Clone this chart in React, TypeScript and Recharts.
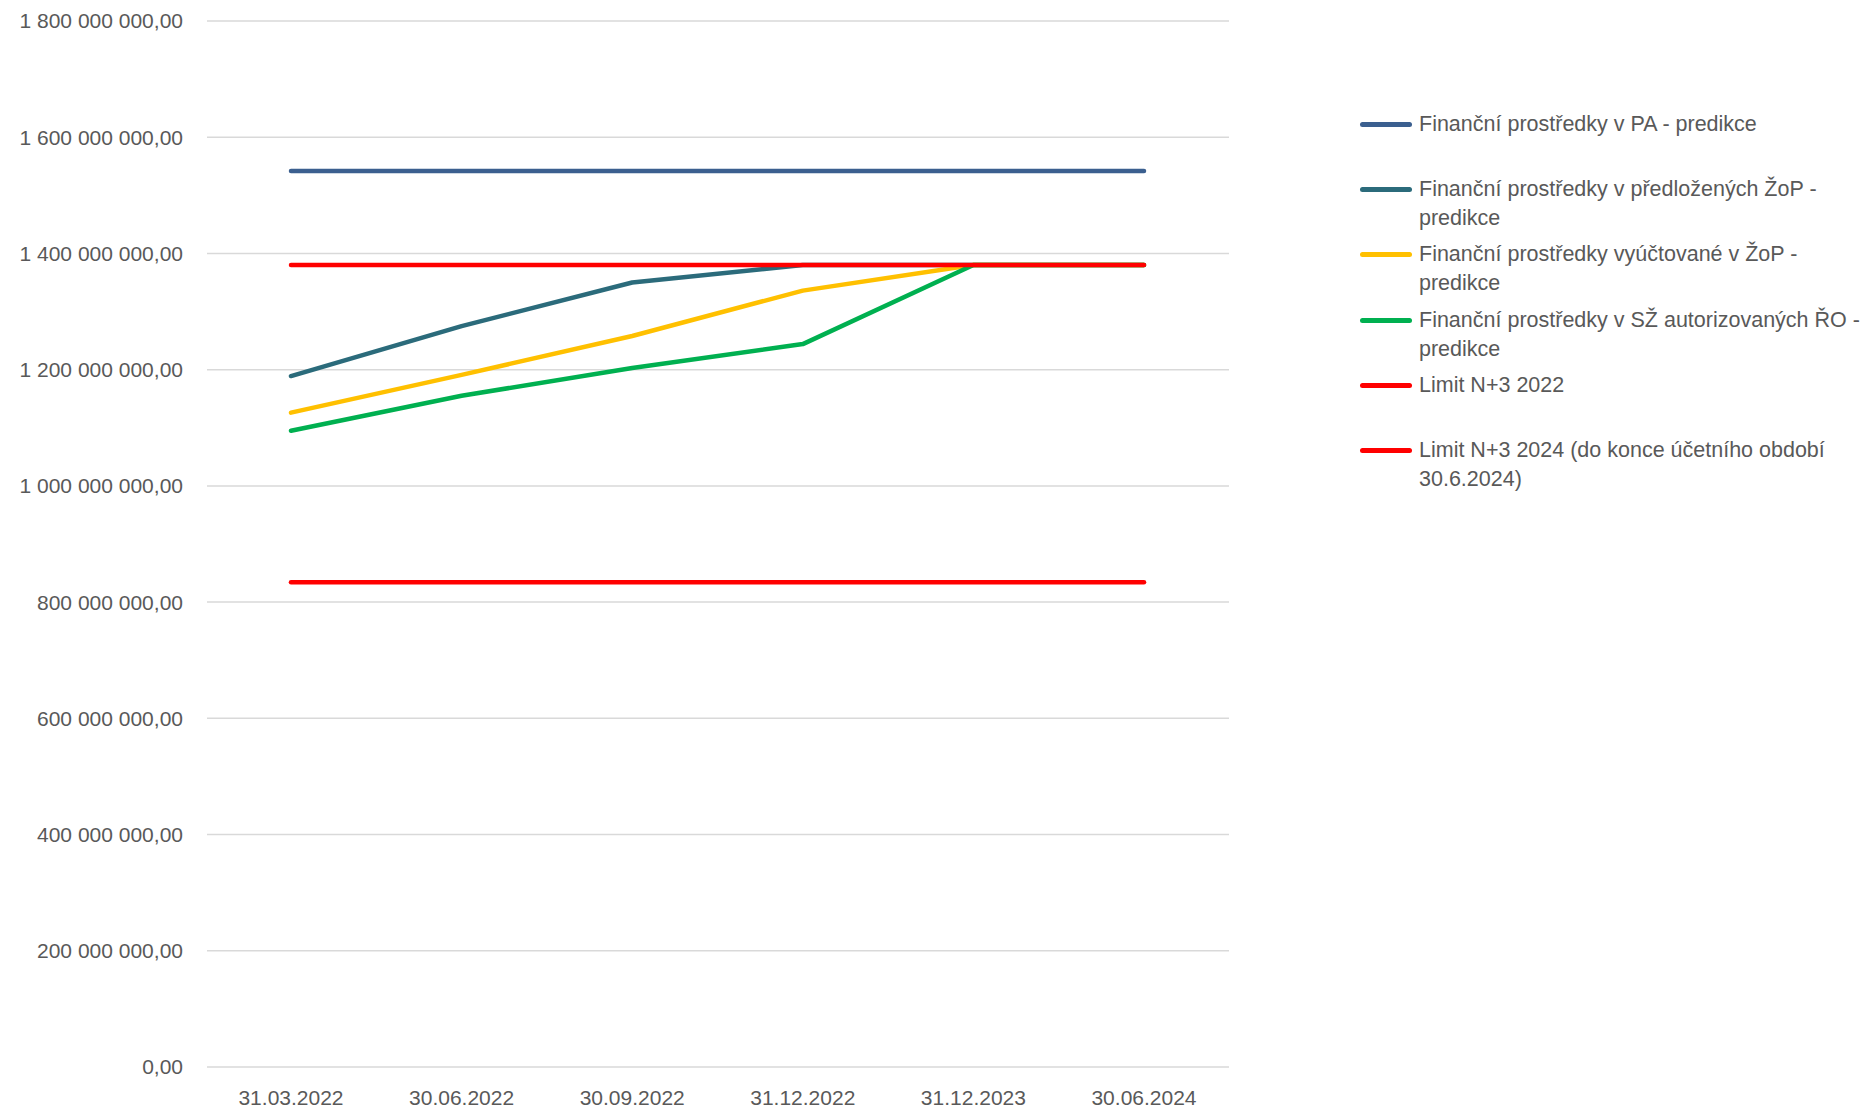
import { CartesianGrid, Legend, Line, LineChart, XAxis, YAxis } from "recharts";

const TEXT = "#595959";
const GRID = "#d9d9d9";
const FONT = "'Liberation Sans', Arial, sans-serif";

// quarters on the x axis
const dates = ["31.03.2022", "30.06.2022", "30.09.2022", "31.12.2022", "31.12.2023", "30.06.2024"];
const yTicks = [0, 200000000, 400000000, 600000000, 800000000, 1000000000, 1200000000, 1400000000, 1600000000, 1800000000];

const paPredikce = [1542000000, 1542000000, 1542000000, 1542000000, 1542000000, 1542000000];
const zopPredlozene = [1189000000, 1275000000, 1350000000, 1380000000, 1380000000, 1380000000];
const zopVyuctovane = [1126000000, 1191000000, 1258000000, 1336000000, 1380000000, 1380000000];
const szAutorizovane = [1095000000, 1155000000, 1203000000, 1244000000, 1380000000, 1380000000];
const limit2022 = [834000000, 834000000, 834000000, 834000000, 834000000, 834000000];
const limit2024 = [1380000000, 1380000000, 1380000000, 1380000000, 1380000000, 1380000000];

const SERIES = [
  { key: "pa", name: "Finanční prostředky v PA - predikce", color: "#3b5f8f", values: paPredikce },
  { key: "predlozene", name: "Finanční prostředky v předložených ŽoP -\npredikce", color: "#2b6b7b", values: zopPredlozene },
  { key: "vyuctovane", name: "Finanční prostředky vyúčtované v ŽoP -\npredikce", color: "#ffc000", values: zopVyuctovane },
  { key: "sz", name: "Finanční prostředky v SŽ autorizovaných ŘO -\npredikce", color: "#00b050", values: szAutorizovane },
  { key: "limit2022", name: "Limit N+3 2022", color: "#ff0000", values: limit2022 },
  { key: "limit2024", name: "Limit N+3 2024 (do konce účetního období\n30.6.2024)", color: "#ff0000", values: limit2024 },
];

const data = dates.map((date, i) => {
  const row: Record<string, string | number> = { date };
  SERIES.forEach((s) => {
    row[s.key] = s.values[i];
  });
  return row;
});

const formatNumber = (v: number) =>
  v.toFixed(2).replace(".", ",").replace(/\B(?=(\d{3})+(?!\d))/g, " ");

// legend keeps the series order (recharts would sort it by name)
function LegendBox() {
  return (
    <div style={{ fontFamily: FONT, fontSize: 21.5, color: TEXT }}>
      {SERIES.map((s) => (
        <div key={s.key} style={{ height: 65.2, display: "flex", alignItems: "flex-start" }}>
          <div style={{ width: 54, height: 29, display: "flex", alignItems: "center", flexShrink: 0 }}>
            <div style={{ width: 52, height: 5, borderRadius: 3, background: s.color }} />
          </div>
          <div style={{ lineHeight: "29px", whiteSpace: "pre-line", marginLeft: 5 }}>{s.name}</div>
        </div>
      ))}
    </div>
  );
}

export default function App() {
  return (
    <div style={{ position: "absolute", left: 0, top: 0, width: 1876, height: 1110, background: "#fff" }}>
      <LineChart width={1876} height={1110} data={data} margin={{ top: 21, right: 647, bottom: 0, left: 0 }}>
        <CartesianGrid vertical={false} stroke={GRID} strokeWidth={1.5} />
        <XAxis
          dataKey="date"
          height={43}
          padding={{ left: 84, right: 85 }}
          axisLine={false}
          tickLine={false}
          tickSize={0}
          tickMargin={23}
          tick={{ fontSize: 21, fill: TEXT, fontFamily: FONT }}
        />
        <YAxis
          width={207}
          domain={[0, 1800000000]}
          ticks={yTicks}
          tickFormatter={formatNumber}
          axisLine={false}
          tickLine={false}
          tickSize={0}
          tickMargin={24}
          tick={{ fontSize: 21, fill: TEXT, fontFamily: FONT }}
        />
        <Legend
          layout="horizontal"
          verticalAlign="middle"
          align="center"
          content={<LegendBox />}
          wrapperStyle={{ left: 1360, top: 110, right: "auto", width: 510 }}
        />
        {SERIES.map((s) => (
          <Line
            key={s.key}
            dataKey={s.key}
            name={s.name}
            stroke={s.color}
            strokeWidth={4.5}
            strokeLinecap="round"
            strokeLinejoin="round"
            dot={false}
            activeDot={false}
            type="linear"
            isAnimationActive={false}
          />
        ))}
      </LineChart>
    </div>
  );
}
